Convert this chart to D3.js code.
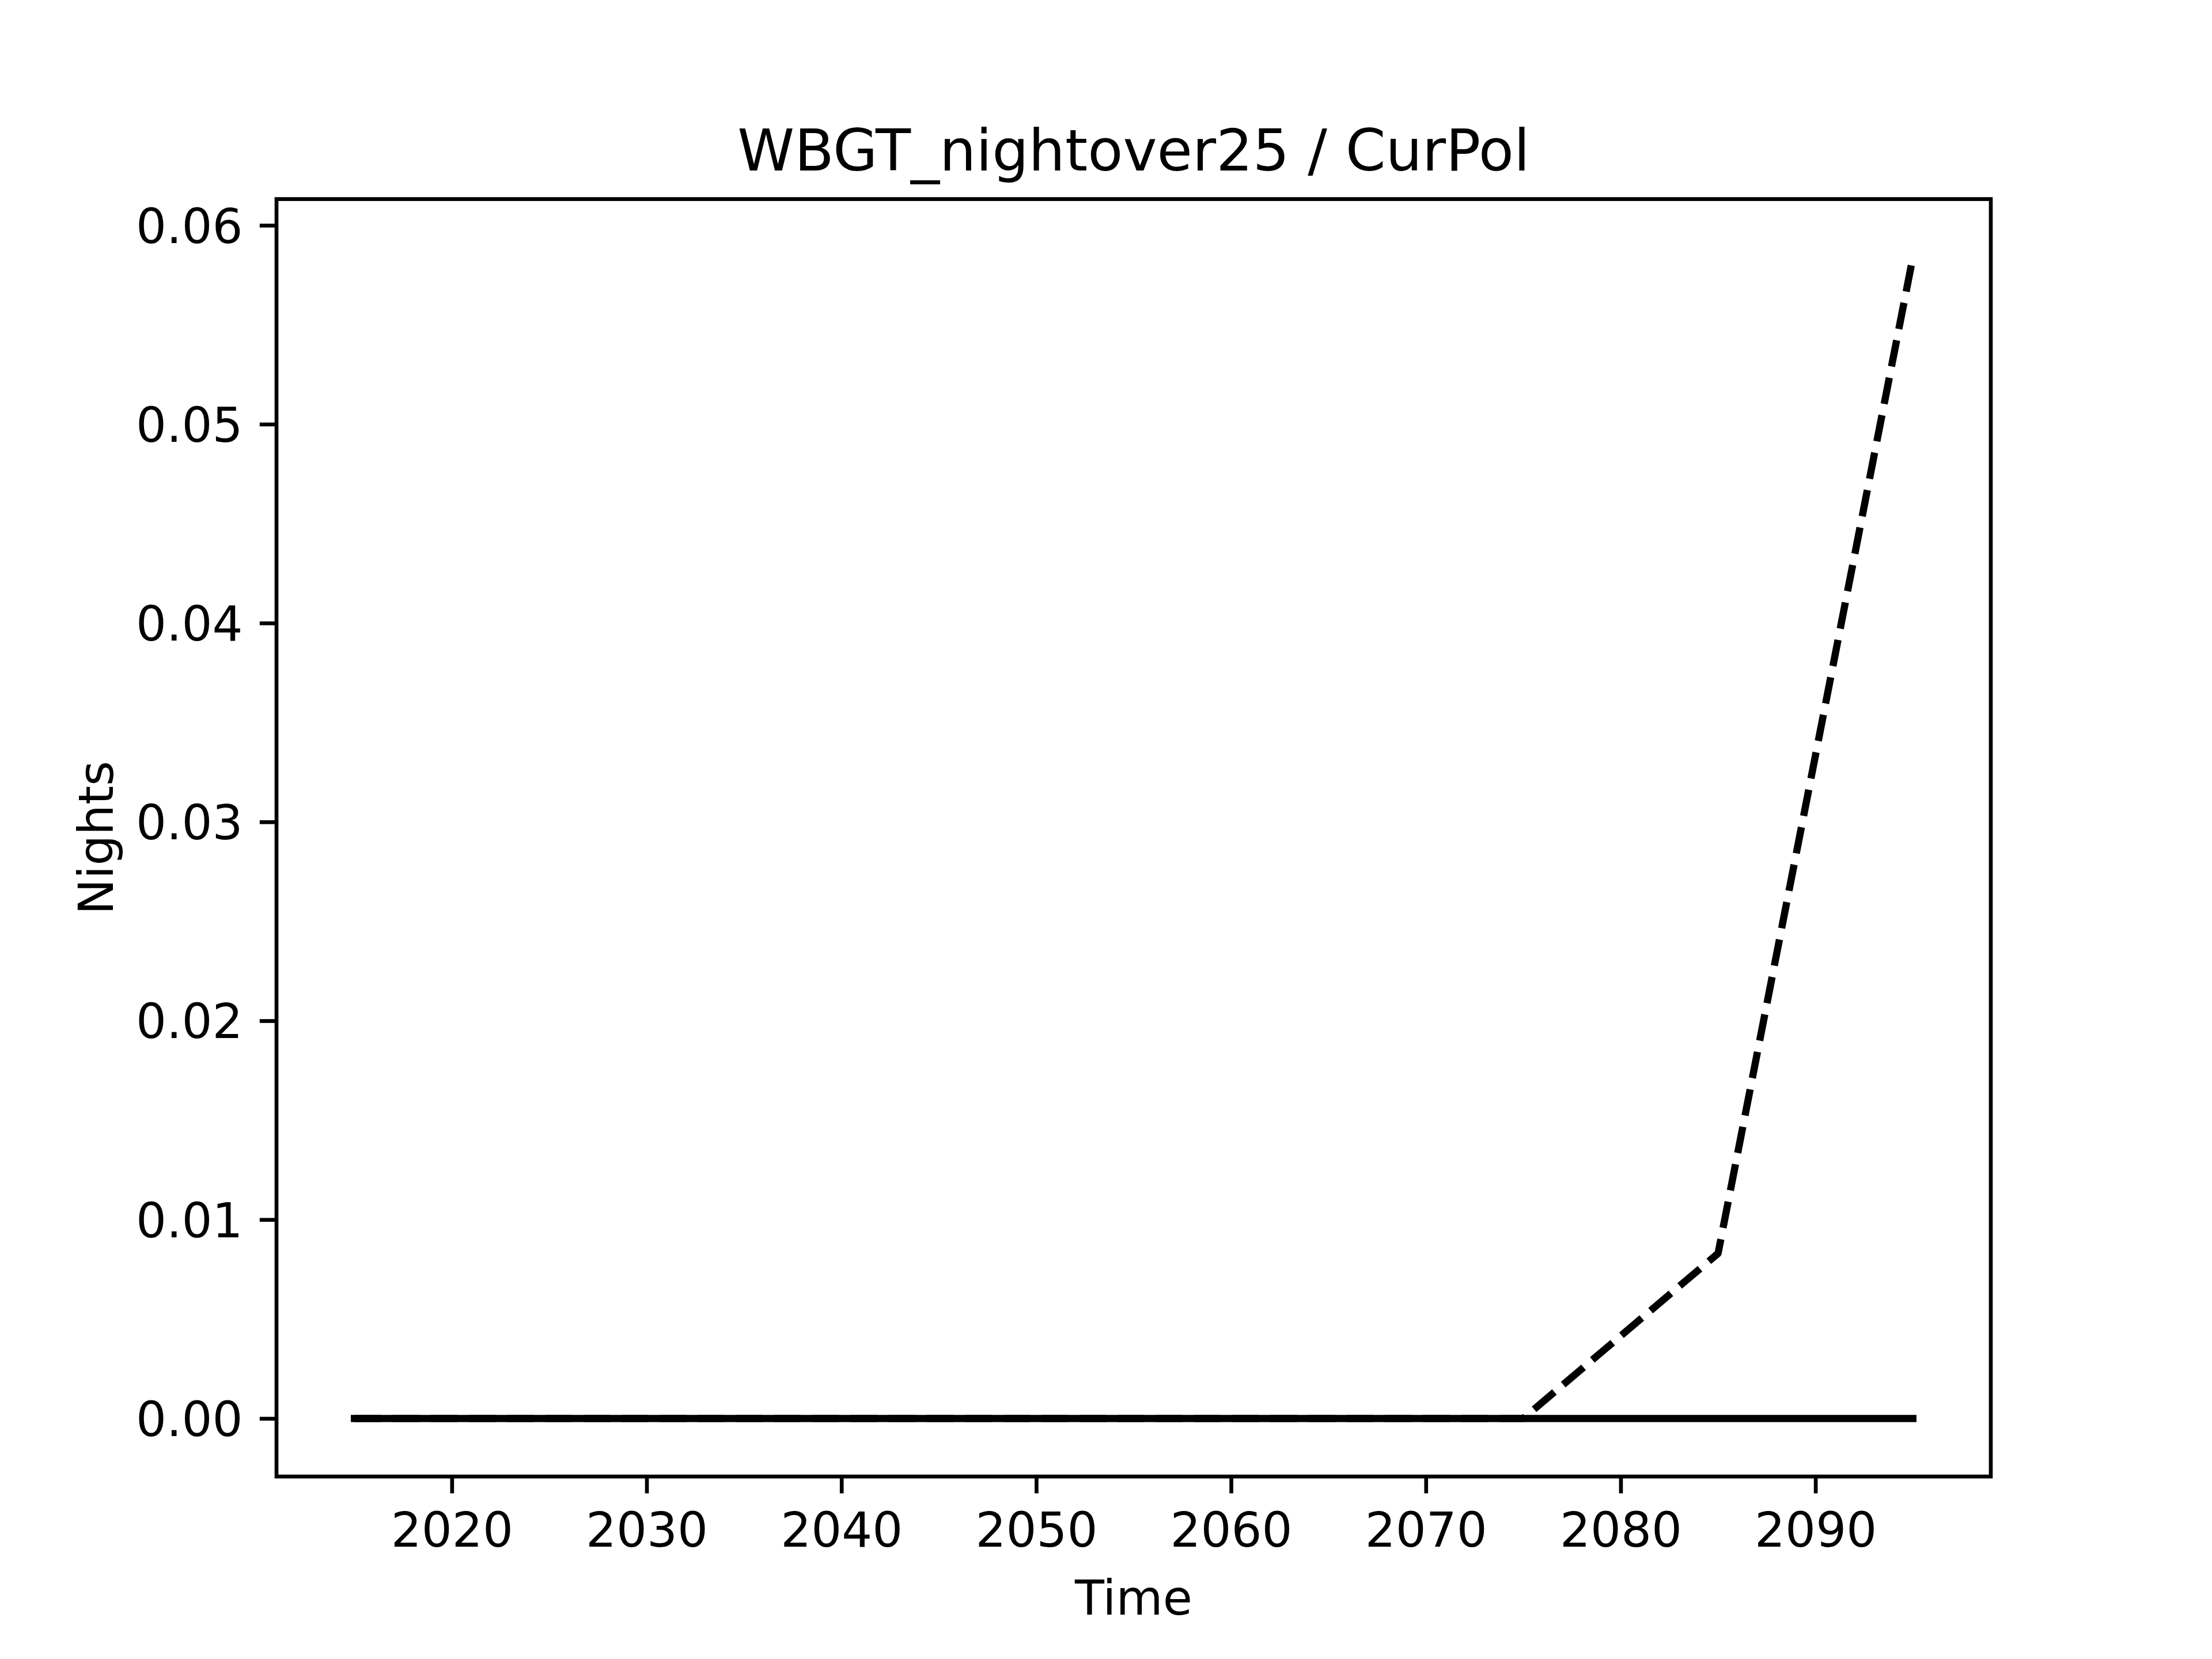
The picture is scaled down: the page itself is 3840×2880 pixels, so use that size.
<!DOCTYPE html>
<html>
<head>
<meta charset="utf-8">
<script src="https://cdn.jsdelivr.net/npm/d3@7"></script>
<style>
  html, body { margin: 0; padding: 0; background: #fff; }
  svg { display: block; }
  text { font-family: "DejaVu Sans", sans-serif; fill: #000; }
</style>
</head>
<body>
<script>
// ---- data ----
const years = [2015, 2025, 2035, 2045, 2055, 2065, 2075, 2085, 2095];
const solidValues = [0, 0, 0, 0, 0, 0, 0, 0, 0];
const dashedValues = [0, 0, 0, 0, 0, 0, 0, 0.0083, 0.0584];
const xTickValues = [2020, 2030, 2040, 2050, 2060, 2070, 2080, 2090];
const yTickValues = [0.00, 0.01, 0.02, 0.03, 0.04, 0.05, 0.06];
const titleText = "WBGT_nightover25 / CurPol";
const xLabel = "Time";
const yLabel = "Nights";

// ---- layout ----
const W = 3840, H = 2880;
const mLeft = 480, mRight = 3456, mTop = 345.6, mBottom = 2563.2;
const fs = 83.33, titleFs = 100;
const lw = 12.5, spineW = 6.67, tickLen = 29.2, tickPad = 29.2;

const svg = d3.select("body").append("svg")
  .attr("width", W).attr("height", H)
  .attr("viewBox", `0 0 ${W} ${H}`);
svg.append("rect").attr("width", W).attr("height", H).attr("fill", "#fff");

// matplotlib-style 5% margins
const xMin = d3.min(years), xMax = d3.max(years);
const xPad = (xMax - xMin) * 0.05;
const allY = solidValues.concat(dashedValues);
const yMin = d3.min(allY), yMax = d3.max(allY);
const yPad = (yMax - yMin) * 0.05;

const x = d3.scaleLinear().domain([xMin - xPad, xMax + xPad]).range([mLeft, mRight]);
const y = d3.scaleLinear().domain([yMin - yPad, yMax + yPad]).range([mBottom, mTop]);

// clip
svg.append("clipPath").attr("id", "clip")
  .append("rect").attr("x", mLeft).attr("y", mTop)
  .attr("width", mRight - mLeft).attr("height", mBottom - mTop);

const line = d3.line().x(d => x(d[0])).y(d => y(d[1]));

const plot = svg.append("g").attr("clip-path", "url(#clip)");
plot.append("path")
  .datum(years.map((yr, i) => [yr, dashedValues[i]]))
  .attr("d", line)
  .attr("fill", "none").attr("stroke", "#000")
  .attr("stroke-width", lw)
  .attr("stroke-dasharray", `${3.7 * lw},${1.6 * lw}`)
  .attr("stroke-linejoin", "round");
plot.append("path")
  .datum(years.map((yr, i) => [yr, solidValues[i]]))
  .attr("d", line)
  .attr("fill", "none").attr("stroke", "#000")
  .attr("stroke-width", lw)
  .attr("stroke-linecap", "square")
  .attr("stroke-linejoin", "round");

// axes via d3
const xAxis = d3.axisBottom(x).tickValues(xTickValues).tickFormat(d3.format("d"))
  .tickSizeInner(tickLen).tickSizeOuter(0).tickPadding(tickPad);
const gx = svg.append("g").attr("transform", `translate(0,${mBottom})`).call(xAxis);
gx.select(".domain").remove();
gx.selectAll(".tick line").attr("stroke", "#000").attr("stroke-width", spineW);
gx.selectAll(".tick text")
  .attr("font-size", fs).attr("font-family", "DejaVu Sans")
  .attr("fill", "#000").attr("dy", null).attr("y", null)
  .attr("transform", `translate(0,${tickLen + tickPad + fs * 0.76})`);

const yAxis = d3.axisLeft(y).tickValues(yTickValues).tickFormat(d3.format(".2f"))
  .tickSizeInner(tickLen).tickSizeOuter(0).tickPadding(tickPad);
const gy = svg.append("g").attr("transform", `translate(${mLeft},0)`).call(yAxis);
gy.select(".domain").remove();
gy.selectAll(".tick line").attr("stroke", "#000").attr("stroke-width", spineW);
gy.selectAll(".tick text")
  .attr("font-size", fs).attr("font-family", "DejaVu Sans")
  .attr("fill", "#000").attr("dy", "0.36em");

// spines
svg.append("rect")
  .attr("x", mLeft).attr("y", mTop)
  .attr("width", mRight - mLeft).attr("height", mBottom - mTop)
  .attr("fill", "none").attr("stroke", "#000").attr("stroke-width", spineW)
  .attr("stroke-linejoin", "miter");

// title & labels
svg.append("text")
  .attr("x", (mLeft + mRight) / 2).attr("y", 296)
  .attr("text-anchor", "middle").attr("font-size", titleFs)
  .text(titleText);
svg.append("text")
  .attr("x", (mLeft + mRight) / 2).attr("y", 2803)
  .attr("text-anchor", "middle").attr("font-size", fs)
  .text(xLabel);
svg.append("text")
  .attr("transform", `translate(196,${(mTop + mBottom) / 2}) rotate(-90)`)
  .attr("text-anchor", "middle").attr("font-size", fs)
  .text(yLabel);
</script>
</body>
</html>
